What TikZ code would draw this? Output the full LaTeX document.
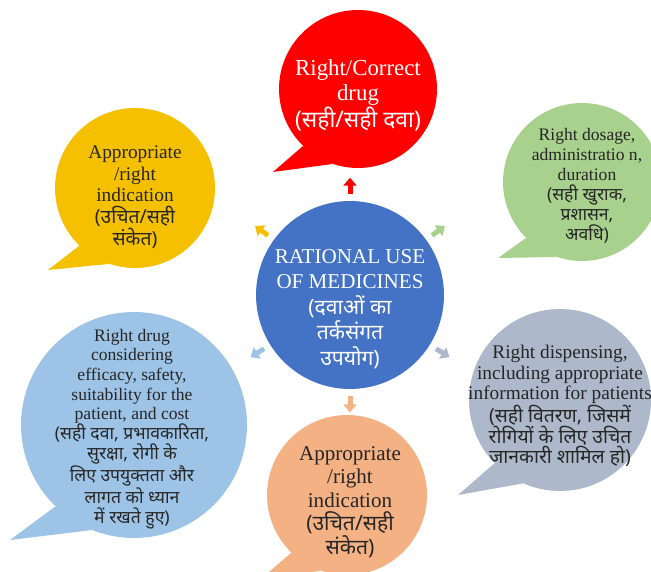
\documentclass[tikz,border=0pt]{standalone}
\usepackage{fontspec}
\setmainfont{Liberation Serif}
\newfontfamily\hindi[Script=Devanagari]{Noto Sans}
\newcommand\hi[1]{{\hindi #1}}
\usetikzlibrary{arrows.meta}
\definecolor{cdrug}{HTML}{FF0000}
\definecolor{cind}{HTML}{F5C000}
\definecolor{cdose}{HTML}{A9D18E}
\definecolor{chub}{HTML}{4472C4}
\definecolor{ceff}{HTML}{9DC3E6}
\definecolor{cdisp}{HTML}{ADB9CA}
\definecolor{cind2}{HTML}{F4B183}
\definecolor{ink}{HTML}{262626}
\begin{document}
\begin{tikzpicture}[x=0.02cm, y=0.02cm,
    bubble/.style={circle, fill=#1, inner sep=0pt},
    words/.style={align=center, inner sep=0pt, text=ink},
    arr/.style={line width=0.1cm, -{Triangle[width=0.26cm,length=0.16cm]}, #1}]
  \useasboundingbox (0,0) rectangle (651,571);
  % the hub
  \node [bubble=chub, minimum size=3.76cm] (hub) at (350,276) {};
  \node [words, text=white, font=\fontsize{12}{14.5}\selectfont] (hubtext) at ([yshift=-0.28cm]hub.center)
    {RATIONAL USE\\OF MEDICINES\\\hi{(दवाओं का}\\\hi{तर्कसंगत}\\\hi{उपयोग)}};
  % bubbles
  \node [bubble=cdrug, minimum size=3.16cm] (drug) at (358,482) {};
  \node [bubble=cind, minimum size=3.2cm] (ind) at (135,383) {};
  \node [bubble=cdose, minimum size=3.16cm] (dose) at (582,389) {};
  \node [bubble=ceff, minimum size=4.52cm] (eff) at (134,146) {};
  \node [bubble=cdisp, minimum size=3.64cm] (disp) at (560,171) {};
  \node [bubble=cind2, minimum size=3.2cm] (ind2) at (347,76) {};
  % callout tails
  \coordinate (drugtip) at (273,399);
  \coordinate (indtip) at (48,301);
  \coordinate (dosetip) at (498,313);
  \coordinate (efftip) at (10,31);
  \coordinate (disptip) at (458,76);
  \coordinate (ind2tip) at (262,-7);
  \fill [cdrug] (drug.226) -- (drugtip) -- (drug.251) -- cycle;
  \fill [cind] (ind.226) -- (indtip) -- (ind.251) -- cycle;
  \fill [cdose] (dose.225) -- (dosetip) -- (dose.251) -- cycle;
  \fill [ceff] (eff.226) -- (efftip) -- (eff.248) -- cycle;
  \fill [cdisp] (disp.224) -- (disptip) -- (disp.246) -- cycle;
  \fill [cind2] (ind2.226) -- (ind2tip) -- (ind2.251) -- cycle;
  % texts
  \node [words, text=white, font=\fontsize{13}{14.2}\selectfont] (drugtext) at ([yshift=-0.12cm]drug.center)
    {Right/Correct\\drug\\\hi{(सही/सही दवा)}};
  \node [words, font=\fontsize{11}{12.3}\selectfont] (indtext) at ([yshift=-0.18cm]ind.center)
    {Appropriate\\/right\\indication\\\hi{(उचित/सही}\\\hi{संकेत)}};
  \node [words, font=\fontsize{10}{11.4}\selectfont] (dosetext) at ([xshift=0.1cm,yshift=-0.08cm]dose.center)
    {Right dosage,\\administratio n,\\duration\\\hi{(सही खुराक,}\\\hi{प्रशासन,}\\\hi{अवधि)}};
  \node [words, font=\fontsize{10}{11.2}\selectfont] (efftext) at ([xshift=-0.04cm,yshift=-0.08cm]eff.center)
    {Right drug\\considering\\efficacy, safety,\\suitability for the\\patient, and cost\\\hi{(सही दवा, प्रभावकारिता,}\\\hi{सुरक्षा, रोगी के}\\\hi{लिए उपयुक्तता और}\\\hi{लागत को ध्यान}\\\hi{में रखते हुए)}};
  \node [words, font=\fontsize{11}{11.7}\selectfont] (disptext) at ([yshift=-0.12cm]disp.center)
    {Right dispensing,\\including appropriate\\information for patients\\\hi{(सही वितरण, जिसमें}\\\hi{रोगियों के लिए उचित}\\\hi{जानकारी शामिल हो)}};
  \node [words, font=\fontsize{12}{13.4}\selectfont] (ind2text) at ([xshift=0.06cm,yshift=-0.14cm]ind2.center)
    {Appropriate\\/right\\indication\\\hi{(उचित/सही}\\\hi{संकेत)}};
  % small arrows round the hub
  \foreach \a/\c in {90/cdrug, 144/cind, 36/cdose, 212/ceff, 328/cdisp, 270/cind2}
    \draw [arr=\c] (hub.\a) ++(\a:0.14cm) -- ++(\a:0.32cm);
\end{tikzpicture}
\end{document}
